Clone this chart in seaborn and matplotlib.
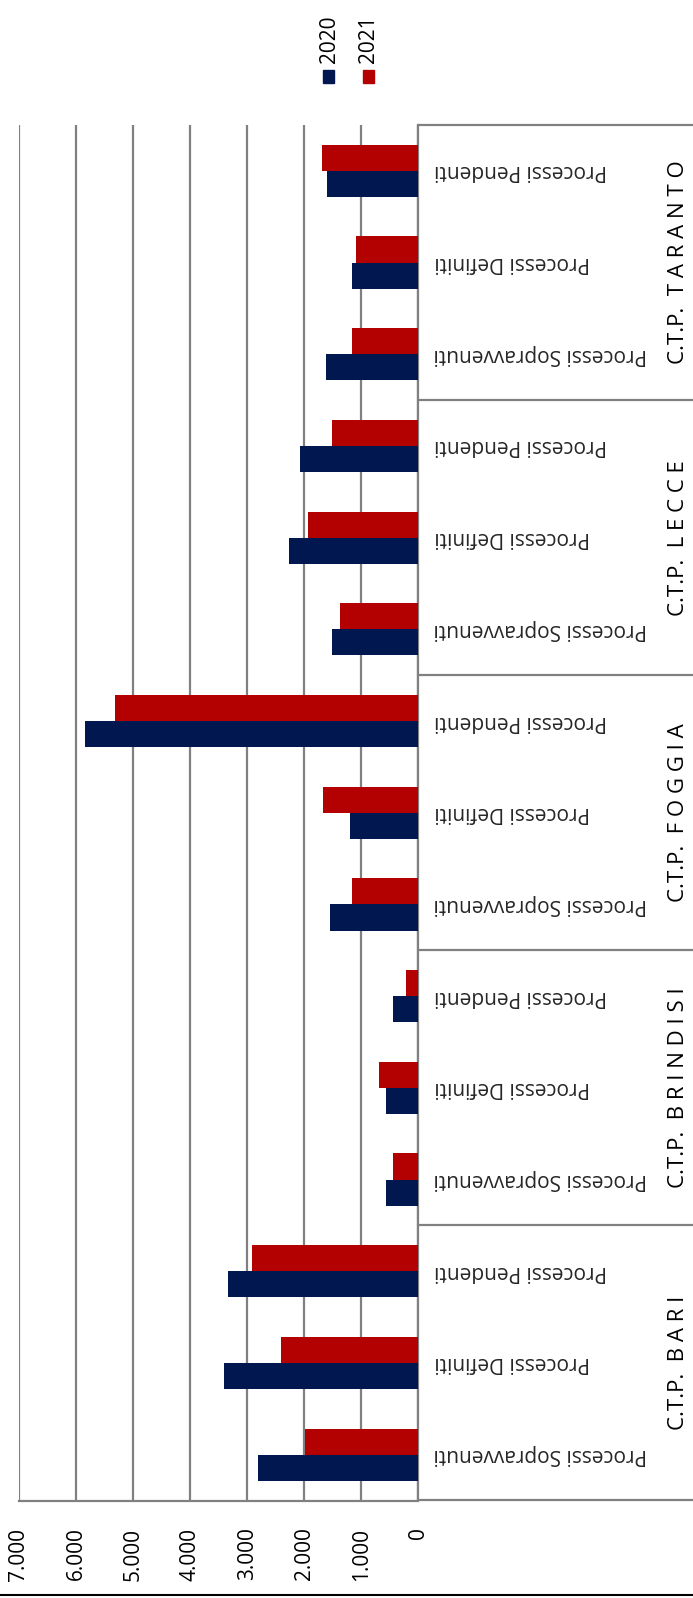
import matplotlib
matplotlib.use("Agg")
import matplotlib.pyplot as plt
from matplotlib.patches import Rectangle
from matplotlib.ticker import FuncFormatter
import pandas as pd
import seaborn as sns

# Commissioni tributarie provinciali and the three process counts
ctp = ["C.T.P.  B A R I", "C.T.P.  B R I N D I S I", "C.T.P.  F O G G I A",
       "C.T.P.  L E C C E", "C.T.P.  T A R A N T O"]
ctp_keys = ["BARI", "BRINDISI", "FOGGIA", "LECCE", "TARANTO"]
processi = ["Processi Sopravvenuti", "Processi Definiti", "Processi Pendenti"]
anni = ["2020", "2021"]

# values per CTP in the order Sopravvenuti, Definiti, Pendenti
valori_2020 = [2809, 3412, 3331,
               572, 572, 449,
               1553, 1192, 5838,
               1508, 2272, 2069,
               1613, 1168, 1606]
valori_2021 = [1987, 2408, 2921,
               449, 689, 210,
               1168, 1671, 5317,
               1367, 1928, 1508,
               1168, 1087, 1694]

tick_values = [0, 1000, 2000, 3000, 4000, 5000, 6000, 7000]

navy = "#00174F"
red = "#B30000"
grid_grey = "#808080"

voci = [f"{c} | {p}" for c in ctp_keys for p in processi]
df = pd.DataFrame({
    "voce": voci * 2,
    "anno": ["2020"] * len(voci) + ["2021"] * len(voci),
    "valore": valori_2020 + valori_2021,
})

sns.set_style("white")
plt.rcParams["font.family"] = ["Open Sans", "DejaVu Sans"]

W, H = 693, 1598
fig = plt.figure(figsize=(W / 100, H / 100), dpi=100)
x0, x1 = 19, 418.3
y0, y1 = 125, 1500.5
ax = fig.add_axes([x0 / W, 1 - y1 / H, (x1 - x0) / W, (y1 - y0) / H])

sns.barplot(data=df, x="valore", y="voce", hue="anno", order=voci,
            hue_order=anni, palette=[navy, red], saturation=1, orient="h",
            width=0.57, linewidth=0, ax=ax, legend=False, zorder=3)

ax.set_xlim(7000, 0)
ax.set_ylim(-0.5, len(voci) - 0.5)
ax.set_xlabel("")
ax.set_ylabel("")

# value axis
ax.set_xticks(tick_values)
ax.xaxis.set_major_formatter(FuncFormatter(lambda v, _: f"{int(v):,}".replace(",", ".")))
ax.tick_params(axis="x", length=0, pad=19.5, labelsize=15, labelrotation=90,
               colors="#000000")
for lab in ax.get_xticklabels():
    lab.set_va("top")
ax.grid(axis="x", color=grid_grey, linewidth=1.6, zorder=0)
ax.grid(axis="y", visible=False)
ax.set_axisbelow(True)

# category axis on the right, labels upside down
ax.yaxis.tick_right()
ax.set_yticks(range(len(voci)))
ax.set_yticklabels([p for _ in ctp_keys for p in processi])
ax.tick_params(axis="y", length=0, pad=11.3, labelsize=15)
for lab in ax.get_yticklabels():
    lab.set_rotation(180)
    lab.set_ha("left")
    lab.set_va("center")

for side in ["top", "left"]:
    ax.spines[side].set_visible(False)
for side in ["bottom", "right"]:
    ax.spines[side].set_color(grid_grey)
    ax.spines[side].set_linewidth(1.6)

# group frame and CTP labels
tr = ax.get_yaxis_transform()
x_end = (W + 5 - x0) / (x1 - x0)
for b in range(len(ctp) + 1):
    yb = b * 3 - 0.5
    ax.plot([1.0, x_end], [yb, yb], transform=tr, color=grid_grey,
            linewidth=1.6, clip_on=False)
x_grp = (678.5 - x0) / (x1 - x0)
for i, name in enumerate(ctp):
    ax.text(x_grp, i * 3 + 1, name, transform=tr, rotation=90, ha="center",
            va="center", fontsize=16, color="#000000")

# legend
for xi, (anno, col) in enumerate(zip(anni, [navy, red])):
    xl = 323 + xi * 40
    fig.patches.append(Rectangle((xl / W, 1 - 83 / H), 11 / W, 13 / H,
                                 transform=fig.transFigure, color=col))
    fig.text((xl + 6) / W, 1 - 63 / H, anno, rotation=90, ha="center",
             va="bottom", fontsize=15, color="#000000")

# bottom rule
fig.add_artist(plt.Line2D([0, 1], [1 - 1595 / H, 1 - 1595 / H],
                          transform=fig.transFigure, color="#000000",
                          linewidth=1.5))

fig.savefig("out.png", dpi=100)
